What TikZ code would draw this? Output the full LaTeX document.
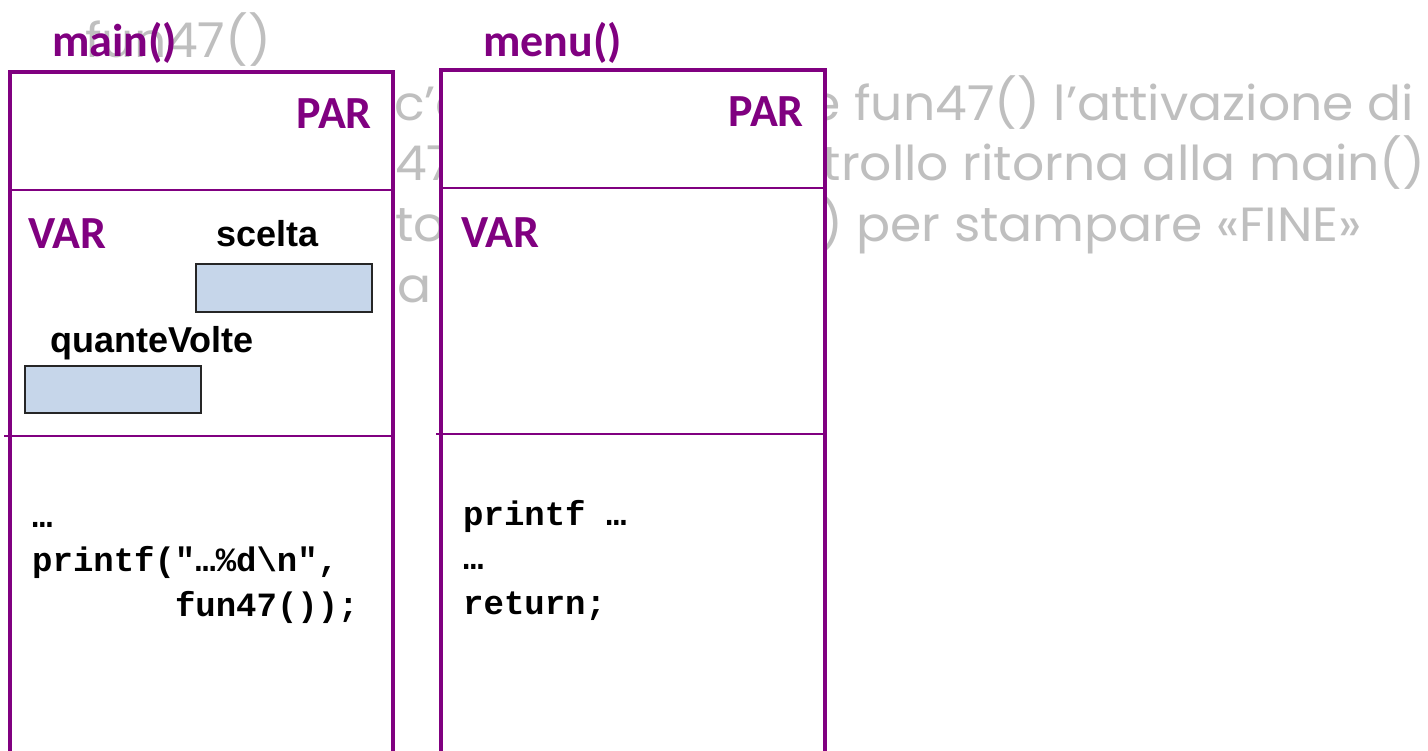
\documentclass[tikz,border=0pt]{standalone}
\usepackage{fontspec}
\setmainfont{Liberation Sans}
\newfontfamily\calfont{Carlito}
\newfontfamily\arialfont{Liberation Sans}
\newfontfamily\monofont{Liberation Mono}
\newfontfamily\comicfont[FakeStretch=1.05]{Poppins}
\definecolor{fpurple}{HTML}{800080}
\definecolor{vblue}{HTML}{C6D6EA}
\definecolor{ghost}{HTML}{BFBFBF}
\begin{document}
\begin{tikzpicture}[x=1pt,y=-1pt,
  ghosttext/.style={font=\comicfont\fontsize{48}{56}\selectfont, text=ghost, inner sep=0pt},
  titletext/.style={font=\calfont\bfseries\fontsize{46}{54}\selectfont, text=fpurple, inner sep=0pt},
  varname/.style={font=\arialfont\bfseries\fontsize{36}{43}\selectfont, text=black, inner sep=0pt},
  codetext/.style={font=\monofont\bfseries\fontsize{34}{44.5}\selectfont, text=black, inner sep=0pt, align=left},
  framebox/.style={draw=fpurple, line width=3.5pt, fill=white},
  divider/.style={draw=fpurple, line width=2.5pt},
  cellbox/.style={draw=black!85, line width=1.8pt, fill=vblue}]
\useasboundingbox (0,0) rectangle (1428,751);
\clip (0,0) rectangle (1428,751);
\fill[white] (0,0) rectangle (1428,751);
% background (ghost) text
\node[ghosttext, anchor=base west] (g1) at (85,58) {fun47()};
\node[ghosttext, anchor=base west] (g2a) at (394,121) {c’è};
\node[ghosttext, anchor=base west] (g3a) at (395,181) {47};
\node[ghosttext, anchor=base west] (g4a) at (395,242) {to};
\node[ghosttext, anchor=base west] (g5a) at (397,303) {a};
\node[ghosttext, anchor=base east] (g2b) at (1414,121) {e fun47() l’attivazione di};
\node[ghosttext, anchor=base east] (g3b) at (1426,181) {controllo ritorna alla main()};
\node[ghosttext, anchor=base west] (g4b) at (820,242) {) per stampare «FINE»};
% frames
\draw[framebox] (10,72) rectangle (393,800);
\draw[framebox] (441,70) rectangle (825,800);
\draw[divider] (10,190) -- (393,190);
\draw[divider] (4,436) -- (393,436);
\draw[divider] (441,188) -- (825,188);
\draw[divider] (436,434) -- (825,434);
% variable cells
\draw[cellbox] (196,264) rectangle (372,312);
\draw[cellbox] (25,366) rectangle (201,413);
% labels
\node[titletext, anchor=base west] (mainlbl) at (52,57) {main()};
\node[titletext, anchor=base west] (menulbl) at (483,57) {menu()};
\node[titletext, anchor=base east] (parmain) at (372,129) {PAR};
\node[titletext, anchor=base east] (parmenu) at (804,127) {PAR};
\node[titletext, anchor=base west] (varmain) at (28,249) {VAR};
\node[titletext, anchor=base west] (varmenu) at (461,248) {VAR};
\node[varname, anchor=base west] (sceltalbl) at (216,247) {scelta};
\node[varname, anchor=base west] (qvlbl) at (50,353) {quanteVolte};
% code (base anchor = baseline of the last line)
\node[codetext, anchor=base west] (maincode) at (32,616) {…\\printf("…\%d\textbackslash n",\\\phantom{printf(}fun47());};
\node[codetext, anchor=base west] (menucode) at (463,614) {printf …\\…\\return;};
\end{tikzpicture}
\end{document}
